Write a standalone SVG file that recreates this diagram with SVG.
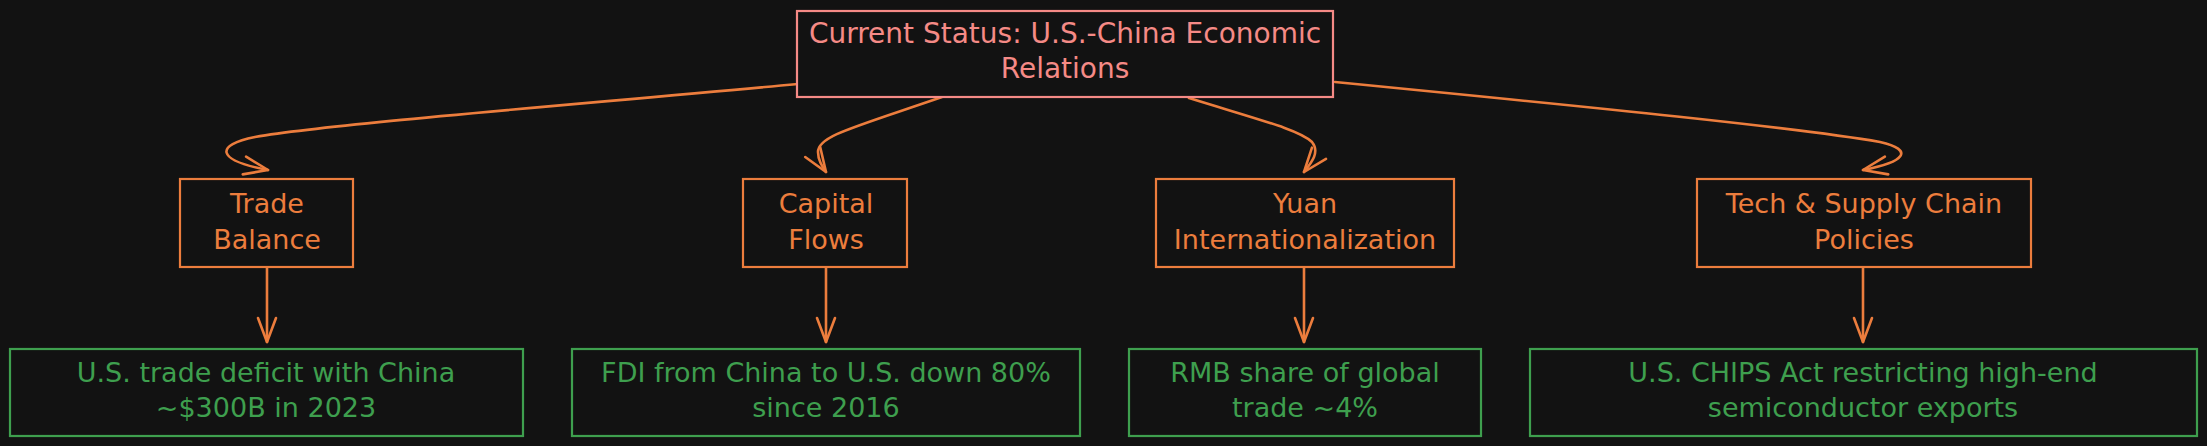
<svg xmlns="http://www.w3.org/2000/svg" width="2207" height="446" viewBox="0 0 2207 446">
<defs>
<style>
.t{font-family:"DejaVu Sans","Liberation Sans",sans-serif;font-size:27px;text-anchor:middle}
.root .t{font-size:28px}
.root rect{fill:#121212;stroke:#f58a86;stroke-width:2.2}
.root text{fill:#f58a86}
.mid rect{fill:#121212;stroke:#ec7d3d;stroke-width:2.2}
.mid text{fill:#ec7d3d}
.leaf rect{fill:#121212;stroke:#3e9f4e;stroke-width:2.2}
.leaf text{fill:#3e9f4e}
.edge{fill:none;stroke:#ec7d3d;stroke-width:2.6;stroke-linecap:round;marker-end:url(#ah)}
</style>
<marker id="ah" markerUnits="userSpaceOnUse" viewBox="0 0 30 24" markerWidth="30" markerHeight="24" refX="26" refY="12" orient="auto">
<path d="M2,3 L26,12 L2,21" fill="none" stroke="#ec7d3d" stroke-width="2.6" stroke-linecap="round" stroke-linejoin="round"/>
</marker>
</defs>
<rect x="0" y="0" width="2207" height="446" fill="#121212"/>
<g id="connectors">
<path class="edge" d="M798,84 C560,106 330,124 255,137 C215,145 215,160 268,170"/>
<path class="edge" d="M942,97 C852,128 818,136 818,152 C818,160 822,166 826,172"/>
<path class="edge" d="M1189,98 C1260,120 1300,130 1312,142 C1320,152 1312,162 1304,172"/>
<path class="edge" d="M1335,82 C1600,108 1800,128 1880,142 C1915,150 1905,162 1863,170"/>
<path class="edge" d="M267,267 L267,342"/>
<path class="edge" d="M826,267 L826,342"/>
<path class="edge" d="M1304,267 L1304,342"/>
<path class="edge" d="M1863,267 L1863,342"/>
</g>
<g id="root" class="root">
<rect x="797" y="11" width="536" height="86"/>
<text class="t" x="1065" y="43">Current Status: U.S.-China Economic</text>
<text class="t" x="1065" y="78">Relations</text>
</g>
<g id="trade" class="mid">
<rect x="180" y="179" width="173" height="88"/>
<text class="t" x="267" y="213">Trade</text>
<text class="t" x="267" y="249">Balance</text>
</g>
<g id="capital" class="mid">
<rect x="743" y="179" width="164" height="88"/>
<text class="t" x="826" y="213">Capital</text>
<text class="t" x="826" y="249">Flows</text>
</g>
<g id="yuan" class="mid">
<rect x="1156" y="179" width="298" height="88"/>
<text class="t" x="1305" y="213">Yuan</text>
<text class="t" x="1305" y="249">Internationalization</text>
</g>
<g id="tech" class="mid">
<rect x="1697" y="179" width="334" height="88"/>
<text class="t" x="1864" y="213">Tech &amp; Supply Chain</text>
<text class="t" x="1864" y="249">Policies</text>
</g>
<g id="trade-fact" class="leaf">
<rect x="10" y="349" width="513" height="87"/>
<text class="t" x="266" y="382">U.S. trade deficit with China</text>
<text class="t" x="266" y="417">~$300B in 2023</text>
</g>
<g id="capital-fact" class="leaf">
<rect x="572" y="349" width="508" height="87"/>
<text class="t" x="826" y="382">FDI from China to U.S. down 80%</text>
<text class="t" x="826" y="417">since 2016</text>
</g>
<g id="yuan-fact" class="leaf">
<rect x="1129" y="349" width="352" height="87"/>
<text class="t" x="1305" y="382">RMB share of global</text>
<text class="t" x="1305" y="417">trade ~4%</text>
</g>
<g id="tech-fact" class="leaf">
<rect x="1530" y="349" width="667" height="87"/>
<text class="t" x="1863" y="382">U.S. CHIPS Act restricting high-end</text>
<text class="t" x="1863" y="417">semiconductor exports</text>
</g>
</svg>
